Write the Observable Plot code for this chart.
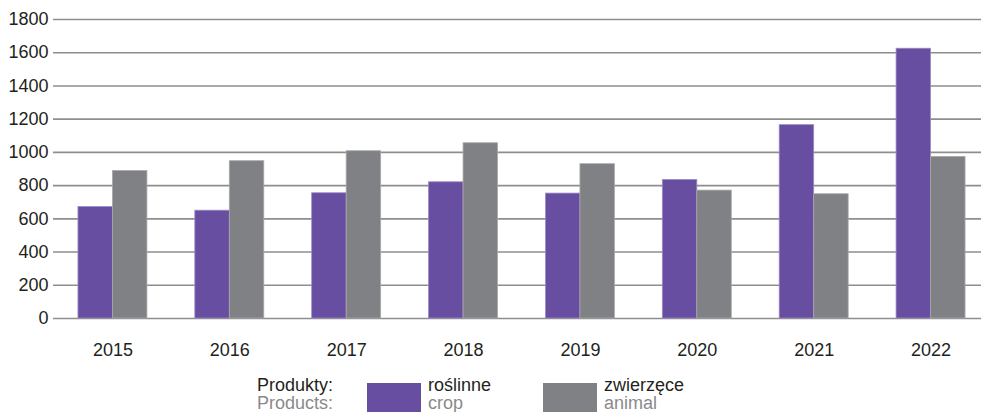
<!DOCTYPE html>
<html><head><meta charset="utf-8">
<script src="https://cdn.jsdelivr.net/npm/d3@7"></script>
<script src="https://cdn.jsdelivr.net/npm/@observablehq/plot@0.6"></script>
<style>
body{margin:0;background:#fff;font-family:"Liberation Sans",Arial,sans-serif;}
#wrap{position:relative;width:981px;height:412px;overflow:hidden;}
#legend{position:absolute;left:0;top:0;width:981px;height:412px;pointer-events:none;}
.lt{position:absolute;font-size:18px;line-height:18px;white-space:nowrap;}
.pri{color:#231f20;}
.sec{color:#8a8a8c;}
.sw{position:absolute;top:383px;width:54px;height:29px;}
</style></head><body>
<div id="wrap"><div id="chart"></div><div id="legend"></div></div>
<script>
const years = ["2015","2016","2017","2018","2019","2020","2021","2022"];
const crop = [671, 649, 754, 820, 752, 834, 1164, 1624];
const animal = [888, 947, 1007, 1055, 929, 770, 748, 973];
const yTicks = [0, 200, 400, 600, 800, 1000, 1200, 1400, 1600, 1800];
const legendTitle = ["Produkty:", "Products:"];
const seriesPl = ["roślinne", "zwierzęce"];
const seriesEn = ["crop", "animal"];
const colors = ["#674ea0", "#808184"];
const edges = ["#9a8bc6", "#a9a9ab"];

const data = years.map((y, i) => ({year: y, crop: crop[i], animal: animal[i]}));

const xRange = [54, 989];
const padIn = 0.41;
const step = (xRange[1] - xRange[0]) / years.length;
const half = step * (1 - padIn) / 2;

const chart = Plot.plot({
  width: 981,
  height: 368,
  marginLeft: 53,
  marginRight: 0,
  marginTop: 19,
  marginBottom: 50,
  style: {fontFamily: '"Liberation Sans", Arial, sans-serif', fontSize: "18px", color: "#231f20", background: "#fff", overflow: "hidden"},
  x: {type: "band", domain: years, range: xRange, round: false, paddingInner: padIn, paddingOuter: padIn / 2, tickSize: 0, tickPadding: 24.5, label: null},
  y: {domain: [0, 1800], ticks: yTicks, tickFormat: d => String(d), tickSize: 0, tickPadding: 5, label: null},
  marks: [
    Plot.ruleY(yTicks, {stroke: "#8e8e8e", strokeWidth: 1.6}),
    Plot.barY(data, {x: "year", y: "crop", fill: colors[0], stroke: edges[0], strokeWidth: 0.8, insetRight: half}),
    Plot.barY(data, {x: "year", y: "animal", fill: colors[1], stroke: edges[1], strokeWidth: 0.8, insetLeft: half})
  ]
});
document.getElementById("chart").appendChild(chart);

const lg = document.getElementById("legend");
function addText(txt, cls, left, top) {
  const d = document.createElement("div");
  d.className = "lt " + cls;
  d.textContent = txt;
  d.style.left = left + "px";
  d.style.top = top + "px";
  lg.appendChild(d);
}
addText(legendTitle[0], "pri", 257, 375.5);
addText(legendTitle[1], "sec", 257, 394);
const swLeft = [367, 543];
const txLeft = [428, 604];
for (let i = 0; i < 2; i++) {
  const s = document.createElement("div");
  s.className = "sw";
  s.style.left = swLeft[i] + "px";
  s.style.background = colors[i];
  lg.appendChild(s);
  addText(seriesPl[i], "pri", txLeft[i], 375.5);
  addText(seriesEn[i], "sec", txLeft[i], 394);
}
</script>
</body></html>
